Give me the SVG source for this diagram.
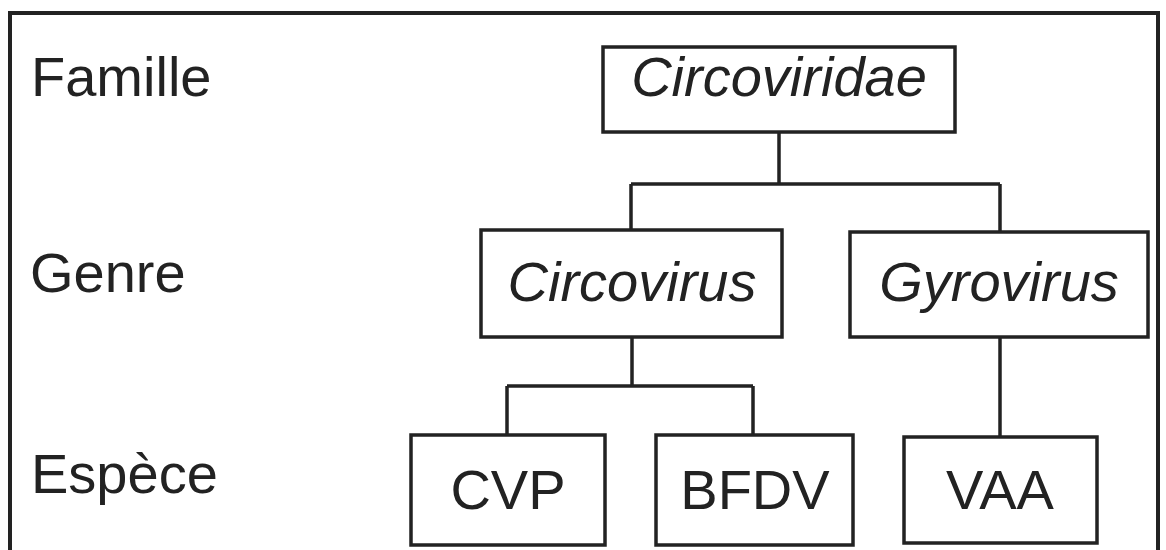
<svg xmlns="http://www.w3.org/2000/svg" width="1166" height="550" viewBox="0 0 1166 550">
<style>
.box{fill:#fff;stroke:#222;stroke-width:3.5}
.t{font-family:"Liberation Sans",Arial,sans-serif;font-size:56px;fill:#222;text-anchor:middle}
.i{font-style:italic}
.lbl{font-family:"Liberation Sans",Arial,sans-serif;font-size:56px;fill:#222}
.c{fill:none;stroke:#222;stroke-width:3.5}
</style>
<rect x="0" y="0" width="1166" height="550" fill="#fff"/>
<rect x="10" y="13" width="1148" height="560" fill="none" stroke="#222" stroke-width="4"/>
<g id="levels">
<text class="lbl" x="31" y="96">Famille</text>
<text class="lbl" x="30" y="292">Genre</text>
<text class="lbl" x="31" y="493">Espèce</text>
</g>
<g id="connectors">
<path class="c" d="M779,132 V184 M631,184 H1000 M631,184 V230 M1000,184 V232"/>
<path class="c" d="M632,337 V386 M507,386 H753 M507,386 V435 M753,386 V435"/>
<path class="c" d="M1000,337 V437"/>
</g>
<g id="circoviridae">
<rect class="box" x="603" y="47" width="352" height="85"/>
<text class="t i" x="779" y="96">Circoviridae</text>
</g>
<g id="circovirus">
<rect class="box" x="481" y="230" width="301" height="107"/>
<text class="t i" x="632" y="301">Circovirus</text>
</g>
<g id="gyrovirus">
<rect class="box" x="850" y="232" width="298" height="105"/>
<text class="t i" x="999" y="301">Gyrovirus</text>
</g>
<g id="cvp">
<rect class="box" x="411" y="435" width="194" height="110"/>
<text class="t" x="508" y="509">CVP</text>
</g>
<g id="bfdv">
<rect class="box" x="656" y="435" width="197" height="110"/>
<text class="t" x="755" y="509">BFDV</text>
</g>
<g id="vaa">
<rect class="box" x="904" y="437" width="193" height="106"/>
<text class="t" x="1000" y="509">VAA</text>
</g>
</svg>
